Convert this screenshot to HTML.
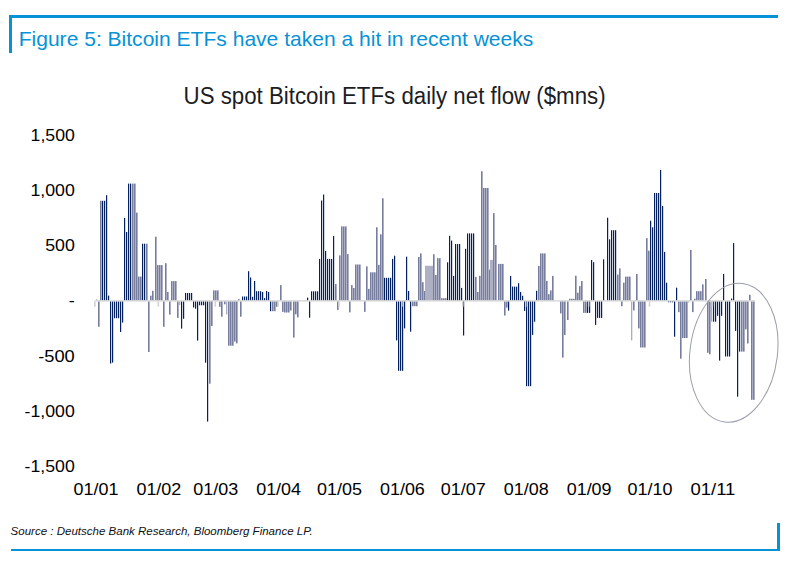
<!DOCTYPE html>
<html><head><meta charset="utf-8"><style>
html,body{margin:0;padding:0;background:#fff;}
body{width:793px;height:567px;position:relative;overflow:hidden;}
svg text{font-family:"Liberation Sans",Arial,sans-serif;}
</style></head><body>
<svg width="793" height="567" viewBox="0 0 793 567" style="position:absolute;left:0;top:0">
<rect x="9" y="15" width="769" height="3" fill="#0692d7"/>
<rect x="9" y="15" width="3" height="38" fill="#0692d7"/>
<rect x="11" y="549" width="769" height="2" fill="#0692d7"/>
<rect x="777" y="523" width="3" height="28" fill="#0692d7"/>
<text x="18.7" y="45.7" font-size="20.8" fill="#0692d7" textLength="514.6" lengthAdjust="spacingAndGlyphs">Figure 5: Bitcoin ETFs have taken a hit in recent weeks</text>
<text x="183.6" y="103.7" font-size="23.0" fill="#1c1c24" textLength="422" lengthAdjust="spacingAndGlyphs">US spot Bitcoin ETFs daily net flow ($mns)</text>
<text x="10.6" y="535.1" font-size="11.4" font-style="italic" fill="#101018" textLength="302" lengthAdjust="spacingAndGlyphs">Source : Deutsche Bank Research, Bloomberg Finance LP.</text>
<rect x="94.5" y="300.1" width="660.5" height="1.50" fill="#d9d9d9"/>
<g></g>
<rect x="96" y="299.30" width="1.3" height="0.80" fill="#a9adc2"/><rect x="100" y="200.80" width="1.6" height="99.30" fill="#777d9d"/><rect x="102" y="200.80" width="1.2" height="99.30" fill="#04205f"/><rect x="104" y="200.80" width="1.2" height="99.30" fill="#04205f"/><rect x="106" y="195.20" width="1.2" height="104.90" fill="#04205f"/><rect x="108" y="295.60" width="1.2" height="4.50" fill="#04205f"/><rect x="124" y="217.90" width="1.2" height="82.20" fill="#04205f"/><rect x="126" y="232.00" width="1.2" height="68.10" fill="#04205f"/><rect x="128" y="183.60" width="1.2" height="116.50" fill="#04205f"/><rect x="130" y="183.60" width="1.2" height="116.50" fill="#04205f"/><rect x="132" y="183.60" width="1.6" height="116.50" fill="#777d9d"/><rect x="134" y="183.60" width="1.6" height="116.50" fill="#777d9d"/><rect x="136" y="212.60" width="1.6" height="87.50" fill="#777d9d"/><rect x="138" y="276.60" width="1.6" height="23.50" fill="#777d9d"/><rect x="140" y="276.60" width="1.6" height="23.50" fill="#777d9d"/><rect x="142" y="243.70" width="1.2" height="56.40" fill="#04205f"/><rect x="144" y="243.70" width="1.2" height="56.40" fill="#04205f"/><rect x="146" y="243.70" width="1.6" height="56.40" fill="#777d9d"/><rect x="150" y="295.70" width="1.6" height="4.40" fill="#777d9d"/><rect x="152" y="290.80" width="1.6" height="9.30" fill="#777d9d"/><rect x="155" y="236.70" width="1.6" height="63.40" fill="#777d9d"/><rect x="157" y="265.10" width="1.6" height="35.00" fill="#777d9d"/><rect x="159" y="265.10" width="1.6" height="35.00" fill="#777d9d"/><rect x="161" y="265.10" width="1.6" height="35.00" fill="#777d9d"/><rect x="165" y="263.20" width="1.6" height="36.90" fill="#777d9d"/><rect x="167" y="292.00" width="1.6" height="8.10" fill="#777d9d"/><rect x="171" y="281.10" width="1.6" height="19.00" fill="#777d9d"/><rect x="173" y="281.10" width="1.6" height="19.00" fill="#777d9d"/><rect x="175" y="281.10" width="1.6" height="19.00" fill="#777d9d"/><rect x="185" y="293.00" width="1.2" height="7.10" fill="#04205f"/><rect x="187" y="293.00" width="1.2" height="7.10" fill="#04205f"/><rect x="189" y="293.00" width="1.2" height="7.10" fill="#04205f"/><rect x="191" y="293.00" width="1.2" height="7.10" fill="#04205f"/><rect x="213" y="290.40" width="1.6" height="9.70" fill="#777d9d"/><rect x="215" y="290.40" width="1.6" height="9.70" fill="#777d9d"/><rect x="217" y="290.40" width="1.6" height="9.70" fill="#777d9d"/><rect x="238" y="299.10" width="1.6" height="1.00" fill="#777d9d"/><rect x="242" y="296.50" width="1.2" height="3.60" fill="#04205f"/><rect x="244" y="296.50" width="1.2" height="3.60" fill="#04205f"/><rect x="246" y="296.50" width="1.2" height="3.60" fill="#04205f"/><rect x="248" y="271.20" width="1.2" height="28.90" fill="#04205f"/><rect x="250" y="277.50" width="1.2" height="22.60" fill="#04205f"/><rect x="252" y="296.80" width="1.2" height="3.30" fill="#04205f"/><rect x="254" y="281.00" width="1.2" height="19.10" fill="#04205f"/><rect x="256" y="291.20" width="1.2" height="8.90" fill="#04205f"/><rect x="258" y="291.20" width="1.2" height="8.90" fill="#04205f"/><rect x="260" y="291.20" width="1.2" height="8.90" fill="#04205f"/><rect x="262" y="292.00" width="1.2" height="8.10" fill="#04205f"/><rect x="264" y="298.10" width="1.2" height="2.00" fill="#04205f"/><rect x="266" y="291.00" width="1.2" height="9.10" fill="#04205f"/><rect x="268" y="292.00" width="1.2" height="8.10" fill="#04205f"/><rect x="280" y="285.10" width="1.6" height="15.00" fill="#777d9d"/><rect x="307" y="297.60" width="1.2" height="2.50" fill="#04205f"/><rect x="311" y="291.30" width="1.2" height="8.80" fill="#04205f"/><rect x="313" y="291.30" width="1.2" height="8.80" fill="#04205f"/><rect x="315" y="291.30" width="1.2" height="8.80" fill="#04205f"/><rect x="317" y="291.30" width="1.2" height="8.80" fill="#04205f"/><rect x="319" y="258.90" width="1.2" height="41.20" fill="#04205f"/><rect x="321" y="200.50" width="1.2" height="99.60" fill="#04205f"/><rect x="323" y="194.50" width="1.2" height="105.60" fill="#04205f"/><rect x="325" y="251.00" width="1.2" height="49.10" fill="#04205f"/><rect x="327" y="258.90" width="1.2" height="41.20" fill="#04205f"/><rect x="329" y="258.90" width="1.2" height="41.20" fill="#04205f"/><rect x="331" y="258.90" width="1.2" height="41.20" fill="#04205f"/><rect x="333" y="235.90" width="1.2" height="64.20" fill="#04205f"/><rect x="335" y="284.10" width="1.6" height="16.00" fill="#777d9d"/><rect x="339" y="255.40" width="1.6" height="44.70" fill="#777d9d"/><rect x="341" y="226.40" width="1.6" height="73.70" fill="#777d9d"/><rect x="343" y="226.40" width="1.6" height="73.70" fill="#777d9d"/><rect x="345" y="226.40" width="1.6" height="73.70" fill="#777d9d"/><rect x="347" y="254.10" width="1.6" height="46.00" fill="#777d9d"/><rect x="351" y="285.10" width="1.6" height="15.00" fill="#777d9d"/><rect x="353" y="288.00" width="1.6" height="12.10" fill="#777d9d"/><rect x="355" y="264.50" width="1.6" height="35.60" fill="#777d9d"/><rect x="357" y="264.50" width="1.6" height="35.60" fill="#777d9d"/><rect x="359" y="264.50" width="1.6" height="35.60" fill="#777d9d"/><rect x="366" y="266.40" width="1.6" height="33.70" fill="#777d9d"/><rect x="368" y="288.90" width="1.6" height="11.20" fill="#777d9d"/><rect x="370" y="272.30" width="1.6" height="27.80" fill="#777d9d"/><rect x="372" y="272.30" width="1.6" height="27.80" fill="#777d9d"/><rect x="374" y="272.30" width="1.6" height="27.80" fill="#777d9d"/><rect x="376" y="227.30" width="1.6" height="72.80" fill="#777d9d"/><rect x="378" y="264.90" width="1.6" height="35.20" fill="#777d9d"/><rect x="380" y="234.30" width="1.6" height="65.80" fill="#777d9d"/><rect x="382" y="198.30" width="1.6" height="101.80" fill="#777d9d"/><rect x="384" y="277.80" width="1.2" height="22.30" fill="#04205f"/><rect x="386" y="277.80" width="1.2" height="22.30" fill="#04205f"/><rect x="388" y="277.80" width="1.2" height="22.30" fill="#04205f"/><rect x="390" y="277.80" width="1.2" height="22.30" fill="#04205f"/><rect x="392" y="258.90" width="1.2" height="41.20" fill="#04205f"/><rect x="394" y="255.70" width="1.2" height="44.40" fill="#04205f"/><rect x="406" y="256.70" width="1.2" height="43.40" fill="#04205f"/><rect x="408" y="291.00" width="1.2" height="9.10" fill="#04205f"/><rect x="418" y="257.00" width="1.6" height="43.10" fill="#777d9d"/><rect x="420" y="253.40" width="1.6" height="46.70" fill="#777d9d"/><rect x="422" y="282.20" width="1.6" height="17.90" fill="#777d9d"/><rect x="424" y="291.00" width="1.6" height="9.10" fill="#777d9d"/><rect x="425" y="265.80" width="3.0" height="34.30" fill="#aeb1c4"/><rect x="427" y="265.80" width="3.0" height="34.30" fill="#aeb1c4"/><rect x="430" y="265.80" width="3.0" height="34.30" fill="#aeb1c4"/><rect x="433" y="254.20" width="1.6" height="45.90" fill="#777d9d"/><rect x="435" y="275.00" width="1.6" height="25.10" fill="#777d9d"/><rect x="437" y="258.20" width="1.6" height="41.90" fill="#777d9d"/><rect x="439" y="258.20" width="1.6" height="41.90" fill="#777d9d"/><rect x="441" y="298.20" width="1.6" height="1.90" fill="#777d9d"/><rect x="443" y="298.20" width="1.6" height="1.90" fill="#777d9d"/><rect x="445" y="298.20" width="1.6" height="1.90" fill="#777d9d"/><rect x="447" y="262.30" width="1.2" height="37.80" fill="#04205f"/><rect x="449" y="235.80" width="1.2" height="64.30" fill="#04205f"/><rect x="451" y="240.60" width="1.2" height="59.50" fill="#04205f"/><rect x="453" y="275.90" width="1.2" height="24.20" fill="#04205f"/><rect x="455" y="244.00" width="1.2" height="56.10" fill="#04205f"/><rect x="457" y="244.00" width="1.2" height="56.10" fill="#04205f"/><rect x="459" y="244.00" width="1.2" height="56.10" fill="#04205f"/><rect x="461" y="287.90" width="1.2" height="12.20" fill="#04205f"/><rect x="465" y="248.80" width="1.2" height="51.30" fill="#04205f"/><rect x="467" y="233.40" width="1.2" height="66.70" fill="#04205f"/><rect x="469" y="233.40" width="1.2" height="66.70" fill="#04205f"/><rect x="471" y="233.40" width="1.2" height="66.70" fill="#04205f"/><rect x="473" y="233.40" width="1.2" height="66.70" fill="#04205f"/><rect x="475" y="276.90" width="1.6" height="23.20" fill="#777d9d"/><rect x="477" y="292.00" width="1.6" height="8.10" fill="#777d9d"/><rect x="479" y="275.90" width="1.6" height="24.20" fill="#777d9d"/><rect x="481" y="171.20" width="1.6" height="128.90" fill="#777d9d"/><rect x="483" y="188.00" width="1.6" height="112.10" fill="#777d9d"/><rect x="485" y="188.00" width="1.6" height="112.10" fill="#777d9d"/><rect x="487" y="188.00" width="1.6" height="112.10" fill="#777d9d"/><rect x="489" y="269.60" width="1.6" height="30.50" fill="#777d9d"/><rect x="490" y="259.90" width="3.0" height="40.20" fill="#aeb1c4"/><rect x="493" y="213.10" width="1.6" height="87.00" fill="#777d9d"/><rect x="495" y="245.00" width="1.6" height="55.10" fill="#777d9d"/><rect x="498" y="263.90" width="1.6" height="36.20" fill="#777d9d"/><rect x="500" y="263.90" width="1.6" height="36.20" fill="#777d9d"/><rect x="502" y="263.90" width="1.6" height="36.20" fill="#777d9d"/><rect x="510" y="275.90" width="1.2" height="24.20" fill="#04205f"/><rect x="512" y="286.60" width="1.2" height="13.50" fill="#04205f"/><rect x="514" y="286.60" width="1.2" height="13.50" fill="#04205f"/><rect x="516" y="286.60" width="1.2" height="13.50" fill="#04205f"/><rect x="518" y="283.20" width="1.2" height="16.90" fill="#04205f"/><rect x="520" y="292.00" width="1.2" height="8.10" fill="#04205f"/><rect x="522" y="295.80" width="1.2" height="4.30" fill="#04205f"/><rect x="536" y="290.80" width="1.2" height="9.30" fill="#04205f"/><rect x="538" y="266.00" width="1.6" height="34.10" fill="#777d9d"/><rect x="540" y="253.40" width="1.6" height="46.70" fill="#777d9d"/><rect x="542" y="253.40" width="1.6" height="46.70" fill="#777d9d"/><rect x="544" y="253.40" width="1.6" height="46.70" fill="#777d9d"/><rect x="546" y="280.90" width="1.6" height="19.20" fill="#777d9d"/><rect x="548" y="294.20" width="1.6" height="5.90" fill="#777d9d"/><rect x="550" y="290.40" width="1.6" height="9.70" fill="#777d9d"/><rect x="552" y="275.90" width="1.6" height="24.20" fill="#777d9d"/><rect x="569" y="298.80" width="1.6" height="1.30" fill="#777d9d"/><rect x="571" y="298.80" width="1.6" height="1.30" fill="#777d9d"/><rect x="573" y="298.80" width="1.6" height="1.30" fill="#777d9d"/><rect x="575" y="275.70" width="1.6" height="24.40" fill="#777d9d"/><rect x="577" y="292.70" width="1.6" height="7.40" fill="#777d9d"/><rect x="579" y="286.20" width="1.6" height="13.90" fill="#777d9d"/><rect x="581" y="281.00" width="1.6" height="19.10" fill="#777d9d"/><rect x="591" y="260.00" width="1.2" height="40.10" fill="#04205f"/><rect x="593" y="262.20" width="1.2" height="37.90" fill="#04205f"/><rect x="603" y="259.30" width="1.2" height="40.80" fill="#04205f"/><rect x="607" y="217.70" width="1.2" height="82.40" fill="#04205f"/><rect x="609" y="239.30" width="1.2" height="60.80" fill="#04205f"/><rect x="611" y="230.20" width="1.2" height="69.90" fill="#04205f"/><rect x="613" y="230.20" width="1.2" height="69.90" fill="#04205f"/><rect x="615" y="230.20" width="1.2" height="69.90" fill="#04205f"/><rect x="617" y="274.60" width="1.6" height="25.50" fill="#777d9d"/><rect x="619" y="268.40" width="1.6" height="31.70" fill="#777d9d"/><rect x="623" y="282.70" width="1.6" height="17.40" fill="#777d9d"/><rect x="625" y="276.60" width="1.6" height="23.50" fill="#777d9d"/><rect x="627" y="276.60" width="1.6" height="23.50" fill="#777d9d"/><rect x="629" y="276.60" width="1.6" height="23.50" fill="#777d9d"/><rect x="636" y="274.00" width="1.6" height="26.10" fill="#777d9d"/><rect x="646" y="238.20" width="1.6" height="61.90" fill="#777d9d"/><rect x="648" y="250.70" width="1.6" height="49.40" fill="#777d9d"/><rect x="650" y="220.70" width="1.2" height="79.40" fill="#04205f"/><rect x="652" y="227.30" width="1.2" height="72.80" fill="#04205f"/><rect x="654" y="193.00" width="1.2" height="107.10" fill="#04205f"/><rect x="656" y="193.00" width="1.2" height="107.10" fill="#04205f"/><rect x="658" y="193.00" width="1.2" height="107.10" fill="#04205f"/><rect x="660" y="169.90" width="1.2" height="130.20" fill="#04205f"/><rect x="662" y="206.00" width="1.2" height="94.10" fill="#04205f"/><rect x="664" y="251.90" width="1.2" height="48.20" fill="#04205f"/><rect x="666" y="282.70" width="1.2" height="17.40" fill="#04205f"/><rect x="676" y="287.70" width="1.2" height="12.40" fill="#04205f"/><rect x="690" y="250.00" width="1.6" height="50.10" fill="#777d9d"/><rect x="694" y="298.70" width="1.6" height="1.40" fill="#777d9d"/><rect x="696" y="291.20" width="1.6" height="8.90" fill="#777d9d"/><rect x="698" y="291.20" width="1.6" height="8.90" fill="#777d9d"/><rect x="700" y="291.20" width="1.6" height="8.90" fill="#777d9d"/><rect x="702" y="284.40" width="1.6" height="15.70" fill="#777d9d"/><rect x="705" y="279.00" width="1.6" height="21.10" fill="#777d9d"/><rect x="723" y="274.00" width="1.2" height="26.10" fill="#04205f"/><rect x="731" y="298.60" width="1.2" height="1.50" fill="#04205f"/><rect x="733" y="243.10" width="1.2" height="57.00" fill="#04205f"/><rect x="749" y="294.80" width="1.6" height="5.30" fill="#777d9d"/><rect x="98" y="301.60" width="1.6" height="25.20" fill="#777d9d"/><rect x="110" y="301.60" width="1.2" height="62.00" fill="#04205f"/><rect x="112" y="301.60" width="1.2" height="61.00" fill="#04205f"/><rect x="114" y="301.60" width="1.2" height="16.60" fill="#04205f"/><rect x="116" y="301.60" width="1.2" height="16.60" fill="#04205f"/><rect x="118" y="301.60" width="1.2" height="16.60" fill="#04205f"/><rect x="120" y="301.60" width="1.2" height="30.40" fill="#04205f"/><rect x="122" y="301.60" width="1.2" height="21.00" fill="#04205f"/><rect x="148" y="301.60" width="1.6" height="50.40" fill="#777d9d"/><rect x="163" y="301.60" width="1.6" height="25.20" fill="#777d9d"/><rect x="169" y="301.60" width="1.6" height="13.00" fill="#777d9d"/><rect x="177" y="301.60" width="1.6" height="16.30" fill="#777d9d"/><rect x="179" y="301.60" width="1.3" height="3.30" fill="#a9adc2"/><rect x="181" y="301.60" width="1.2" height="27.00" fill="#04205f"/><rect x="183" y="301.60" width="1.2" height="17.20" fill="#04205f"/><rect x="193" y="301.60" width="1.2" height="5.90" fill="#04205f"/><rect x="195" y="301.60" width="1.2" height="7.10" fill="#04205f"/><rect x="197" y="301.60" width="1.2" height="39.00" fill="#04205f"/><rect x="199" y="301.60" width="1.2" height="3.70" fill="#04205f"/><rect x="201" y="301.60" width="1.2" height="3.70" fill="#04205f"/><rect x="203" y="301.60" width="1.2" height="3.70" fill="#04205f"/><rect x="205" y="301.60" width="1.2" height="61.10" fill="#04205f"/><rect x="207" y="301.60" width="1.2" height="120.00" fill="#04205f"/><rect x="209" y="301.60" width="1.6" height="82.10" fill="#777d9d"/><rect x="211" y="301.60" width="1.6" height="24.40" fill="#777d9d"/><rect x="219" y="301.60" width="1.6" height="5.20" fill="#777d9d"/><rect x="221" y="301.60" width="1.6" height="15.10" fill="#777d9d"/><rect x="224" y="301.60" width="1.6" height="2.70" fill="#777d9d"/><rect x="226" y="301.60" width="1.3" height="12.80" fill="#a9adc2"/><rect x="228" y="301.60" width="1.6" height="44.10" fill="#777d9d"/><rect x="230" y="301.60" width="1.6" height="44.10" fill="#777d9d"/><rect x="232" y="301.60" width="1.6" height="44.10" fill="#777d9d"/><rect x="234" y="301.60" width="1.6" height="39.90" fill="#777d9d"/><rect x="236" y="301.60" width="1.6" height="41.80" fill="#777d9d"/><rect x="240" y="301.60" width="1.6" height="15.10" fill="#777d9d"/><rect x="270" y="301.60" width="1.2" height="9.60" fill="#04205f"/><rect x="272" y="301.60" width="1.6" height="9.60" fill="#777d9d"/><rect x="274" y="301.60" width="1.6" height="9.60" fill="#777d9d"/><rect x="276" y="301.60" width="1.6" height="5.20" fill="#777d9d"/><rect x="282" y="301.60" width="1.6" height="10.30" fill="#777d9d"/><rect x="284" y="301.60" width="1.6" height="10.90" fill="#777d9d"/><rect x="286" y="301.60" width="1.6" height="10.90" fill="#777d9d"/><rect x="288" y="301.60" width="1.6" height="10.90" fill="#777d9d"/><rect x="290" y="301.60" width="1.6" height="8.90" fill="#777d9d"/><rect x="293" y="301.60" width="1.6" height="36.00" fill="#777d9d"/><rect x="295" y="301.60" width="1.6" height="12.70" fill="#777d9d"/><rect x="297" y="301.60" width="1.6" height="15.80" fill="#777d9d"/><rect x="309" y="301.60" width="1.2" height="16.10" fill="#04205f"/><rect x="337" y="301.60" width="1.6" height="8.30" fill="#777d9d"/><rect x="349" y="301.60" width="1.6" height="10.80" fill="#777d9d"/><rect x="364" y="301.60" width="1.6" height="10.20" fill="#777d9d"/><rect x="396" y="301.60" width="1.2" height="38.80" fill="#04205f"/><rect x="398" y="301.60" width="1.2" height="69.20" fill="#04205f"/><rect x="400" y="301.60" width="1.2" height="69.20" fill="#04205f"/><rect x="402" y="301.60" width="1.2" height="69.20" fill="#04205f"/><rect x="404" y="301.60" width="1.2" height="26.80" fill="#04205f"/><rect x="410" y="301.60" width="1.2" height="30.10" fill="#04205f"/><rect x="412" y="301.60" width="1.6" height="4.60" fill="#777d9d"/><rect x="414" y="301.60" width="1.6" height="4.60" fill="#777d9d"/><rect x="416" y="301.60" width="1.6" height="4.60" fill="#777d9d"/><rect x="463" y="301.60" width="1.2" height="33.90" fill="#04205f"/><rect x="504" y="301.60" width="1.6" height="13.90" fill="#777d9d"/><rect x="506" y="301.60" width="1.6" height="6.00" fill="#777d9d"/><rect x="508" y="301.60" width="1.2" height="9.00" fill="#04205f"/><rect x="524" y="301.60" width="1.2" height="9.30" fill="#04205f"/><rect x="526" y="301.60" width="1.2" height="84.60" fill="#04205f"/><rect x="528" y="301.60" width="1.2" height="84.60" fill="#04205f"/><rect x="530" y="301.60" width="1.2" height="84.60" fill="#04205f"/><rect x="532" y="301.60" width="1.2" height="33.30" fill="#04205f"/><rect x="534" y="301.60" width="1.2" height="20.10" fill="#04205f"/><rect x="560" y="301.60" width="1.6" height="11.80" fill="#777d9d"/><rect x="562" y="301.60" width="1.6" height="56.00" fill="#777d9d"/><rect x="564" y="301.60" width="1.6" height="33.30" fill="#777d9d"/><rect x="567" y="301.60" width="1.6" height="18.40" fill="#777d9d"/><rect x="583" y="301.60" width="1.6" height="11.30" fill="#777d9d"/><rect x="585" y="301.60" width="1.6" height="11.30" fill="#777d9d"/><rect x="587" y="301.60" width="1.2" height="11.30" fill="#04205f"/><rect x="589" y="301.60" width="1.2" height="11.30" fill="#04205f"/><rect x="595" y="301.60" width="1.2" height="23.30" fill="#04205f"/><rect x="597" y="301.60" width="1.2" height="16.30" fill="#04205f"/><rect x="599" y="301.60" width="1.2" height="16.30" fill="#04205f"/><rect x="601" y="301.60" width="1.2" height="16.30" fill="#04205f"/><rect x="621" y="301.60" width="1.6" height="4.60" fill="#777d9d"/><rect x="631" y="301.60" width="1.3" height="38.80" fill="#a9adc2"/><rect x="633" y="301.60" width="1.6" height="8.80" fill="#777d9d"/><rect x="638" y="301.60" width="1.6" height="26.80" fill="#777d9d"/><rect x="640" y="301.60" width="1.6" height="45.90" fill="#777d9d"/><rect x="642" y="301.60" width="1.6" height="45.90" fill="#777d9d"/><rect x="644" y="301.60" width="1.6" height="45.90" fill="#777d9d"/><rect x="668" y="301.60" width="1.2" height="0.70" fill="#04205f"/><rect x="670" y="301.60" width="1.2" height="0.70" fill="#04205f"/><rect x="672" y="301.60" width="1.2" height="0.70" fill="#04205f"/><rect x="674" y="301.60" width="1.2" height="35.10" fill="#04205f"/><rect x="678" y="301.60" width="1.6" height="10.60" fill="#777d9d"/><rect x="680" y="301.60" width="1.6" height="57.10" fill="#777d9d"/><rect x="682" y="301.60" width="1.6" height="36.40" fill="#777d9d"/><rect x="684" y="301.60" width="1.6" height="36.40" fill="#777d9d"/><rect x="686" y="301.60" width="1.6" height="36.40" fill="#777d9d"/><rect x="688" y="301.60" width="1.3" height="0.90" fill="#a9adc2"/><rect x="692" y="301.60" width="1.6" height="10.50" fill="#777d9d"/><rect x="707" y="301.60" width="1.6" height="51.20" fill="#777d9d"/><rect x="709" y="301.60" width="1.6" height="52.70" fill="#777d9d"/><rect x="711" y="301.60" width="1.3" height="20.10" fill="#a9adc2"/><rect x="713" y="301.60" width="1.2" height="20.10" fill="#04205f"/><rect x="715" y="301.60" width="1.2" height="20.10" fill="#04205f"/><rect x="717" y="301.60" width="1.2" height="14.20" fill="#04205f"/><rect x="719" y="301.60" width="1.2" height="59.00" fill="#04205f"/><rect x="721" y="301.60" width="1.2" height="14.20" fill="#04205f"/><rect x="725" y="301.60" width="1.2" height="54.90" fill="#04205f"/><rect x="727" y="301.60" width="1.2" height="54.90" fill="#04205f"/><rect x="729" y="301.60" width="1.2" height="54.90" fill="#04205f"/><rect x="735" y="301.60" width="1.2" height="29.30" fill="#04205f"/><rect x="737" y="301.60" width="1.2" height="95.10" fill="#04205f"/><rect x="739" y="301.60" width="1.2" height="50.00" fill="#04205f"/><rect x="741" y="301.60" width="1.6" height="50.00" fill="#777d9d"/><rect x="743" y="301.60" width="1.6" height="50.00" fill="#777d9d"/><rect x="745" y="301.60" width="1.6" height="27.70" fill="#777d9d"/><rect x="747" y="301.60" width="1.6" height="41.90" fill="#777d9d"/><rect x="751" y="301.60" width="1.6" height="98.20" fill="#777d9d"/><rect x="753" y="301.60" width="1.6" height="98.20" fill="#777d9d"/>
<rect x="94.05" y="301.60" width="1.6" height="5.1" fill="#d2d2d2"/><rect x="157.56" y="301.60" width="1.6" height="5.1" fill="#d2d2d2"/><rect x="214.39" y="301.60" width="1.6" height="5.1" fill="#d2d2d2"/><rect x="277.30" y="301.60" width="1.6" height="5.1" fill="#d2d2d2"/><rect x="338.19" y="301.60" width="1.6" height="5.1" fill="#d2d2d2"/><rect x="401.10" y="301.60" width="1.6" height="5.1" fill="#d2d2d2"/><rect x="461.98" y="301.60" width="1.6" height="5.1" fill="#d2d2d2"/><rect x="524.90" y="301.60" width="1.6" height="5.1" fill="#d2d2d2"/><rect x="587.81" y="301.60" width="1.6" height="5.1" fill="#d2d2d2"/><rect x="648.70" y="301.60" width="1.6" height="5.1" fill="#d2d2d2"/><rect x="711.61" y="301.60" width="1.6" height="5.1" fill="#d2d2d2"/>
<ellipse cx="733.7" cy="352.7" rx="43.7" ry="69.8" transform="rotate(7.5 733.7 352.7)" fill="none" stroke="#9a9eaa" stroke-width="1"/>
<g font-size="16.6" fill="#000">
<text x="73.51" y="494.85" textLength="44.9" lengthAdjust="spacingAndGlyphs">01/01</text><text x="136.42" y="494.85" textLength="44.9" lengthAdjust="spacingAndGlyphs">01/02</text><text x="193.25" y="494.85" textLength="44.9" lengthAdjust="spacingAndGlyphs">01/03</text><text x="256.17" y="494.85" textLength="44.9" lengthAdjust="spacingAndGlyphs">01/04</text><text x="317.05" y="494.85" textLength="44.9" lengthAdjust="spacingAndGlyphs">01/05</text><text x="379.96" y="494.85" textLength="44.9" lengthAdjust="spacingAndGlyphs">01/06</text><text x="440.85" y="494.85" textLength="44.9" lengthAdjust="spacingAndGlyphs">01/07</text><text x="503.76" y="494.85" textLength="44.9" lengthAdjust="spacingAndGlyphs">01/08</text><text x="566.68" y="494.85" textLength="44.9" lengthAdjust="spacingAndGlyphs">01/09</text><text x="627.56" y="494.85" textLength="44.9" lengthAdjust="spacingAndGlyphs">01/10</text><text x="690.48" y="494.85" textLength="44.9" lengthAdjust="spacingAndGlyphs">01/11</text>
</g>
<g font-size="16.6" fill="#000">
<text x="30.60" y="141.01" textLength="44.20" lengthAdjust="spacingAndGlyphs">1,500</text><text x="30.40" y="196.14" textLength="44.40" lengthAdjust="spacingAndGlyphs">1,000</text><text x="45.20" y="251.27" textLength="29.60" lengthAdjust="spacingAndGlyphs">500</text><text x="68.80" y="306.40" textLength="6.00" lengthAdjust="spacingAndGlyphs">-</text><text x="38.20" y="361.53" textLength="36.60" lengthAdjust="spacingAndGlyphs">-500</text><text x="24.60" y="416.66" textLength="50.20" lengthAdjust="spacingAndGlyphs">-1,000</text><text x="24.60" y="471.79" textLength="50.20" lengthAdjust="spacingAndGlyphs">-1,500</text>
</g>
</svg>
</body></html>
